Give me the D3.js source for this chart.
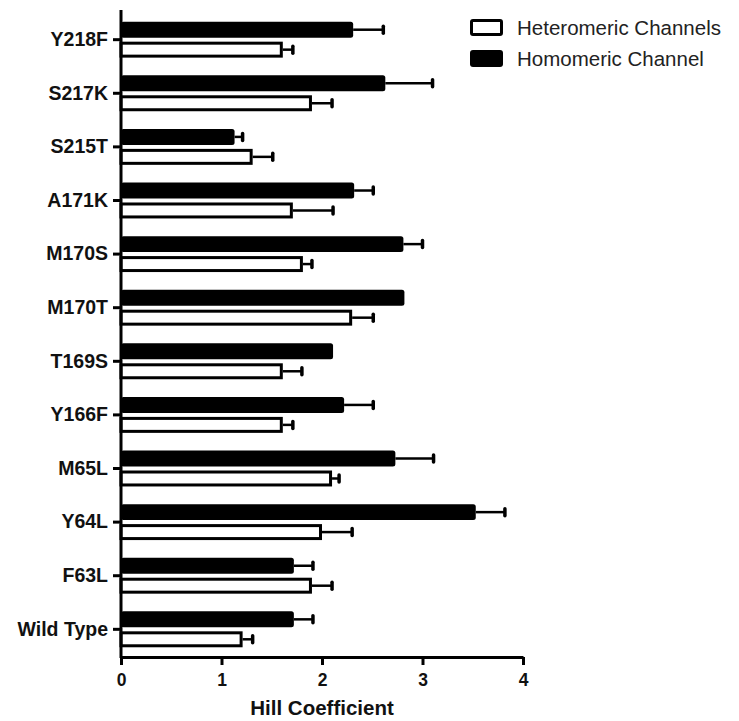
<!DOCTYPE html>
<html lang="en">
  <head>
    <meta charset="UTF-8" />
    <title>Hill Coefficient</title>
    <script src="https://d3js.org/d3.v7.min.js"></script>
    <style>
      body {
        margin: 0;
        background: #fff;
      }
      * {
        font-family: "Liberation Sans", Arial, sans-serif;
      }
      .axis path,
      .axis line {
        stroke: #000;
        stroke-width: 3;
      }
      .axis text {
        fill: #111;
        font-weight: bold;
      }
      .legend text {
        fill: #222;
        font-size: 20.5px;
      }
    </style>
  </head>
  <body>
    <script>
      const categories = ["Y218F", "S217K", "S215T", "A171K", "M170S", "M170T",
        "T169S", "Y166F", "M65L", "Y64L", "F63L", "Wild Type"];
      const seriesNames = ["Homomeric Channel", "Heteromeric Channels"];
      const homoValues = [2.31, 2.63, 1.13, 2.32, 2.81, 2.82, 2.11, 2.22, 2.73, 3.53, 1.72, 1.72];
      const homoErrors = [0.30, 0.47, 0.08, 0.19, 0.19, 0, 0, 0.29, 0.38, 0.29, 0.19, 0.19];
      const heteroValues = [1.61, 1.90, 1.31, 1.71, 1.81, 2.30, 1.61, 1.61, 2.10, 2.00, 1.90, 1.21];
      const heteroErrors = [0.10, 0.20, 0.20, 0.40, 0.09, 0.21, 0.19, 0.10, 0.07, 0.30, 0.20, 0.10];
      const xTicks = [0, 1, 2, 3, 4];

      const rows = categories.map((c, i) => ({
        name: c,
        bars: [
          { key: seriesNames[0], value: homoValues[i], err: homoErrors[i] },
          { key: seriesNames[1], value: heteroValues[i], err: heteroErrors[i] },
        ],
      }));

      const width = 739, height = 721;
      const svg = d3.select("body").append("svg")
        .attr("width", width).attr("height", height);

      const x = d3.scaleLinear().domain([0, 4]).range([121, 523]);
      const y = d3.scaleBand().domain(categories).range([11, 658])
        .paddingInner(0.33).paddingOuter(0.2);
      const yInner = d3.scaleBand().domain(seriesNames)
        .range([0, y.bandwidth()]).paddingInner(0.2);

      const groups = svg.selectAll("g.row").data(rows).enter()
        .append("g").attr("class", "row")
        .attr("transform", (d) => `translate(0, ${y(d.name)})`);

      groups.each(function (d) {
        const g = d3.select(this);
        d.bars.forEach(function (b) {
          const isHomo = b.key === seriesNames[0];
          const by = yInner(b.key);
          const bh = yInner.bandwidth();
          const cy = by + bh / 2;
          // error bar (right side only)
          if (b.err > 0) {
            g.append("line")
              .attr("x1", x(b.value)).attr("x2", x(b.value + b.err))
              .attr("y1", cy).attr("y2", cy)
              .attr("stroke", "#000").attr("stroke-width", 2.5);
            g.append("line")
              .attr("x1", x(b.value + b.err)).attr("x2", x(b.value + b.err))
              .attr("y1", cy - 3.5).attr("y2", cy + 3.5)
              .attr("stroke", "#000").attr("stroke-width", 3.5)
              .attr("stroke-linecap", "round");
          }
          if (isHomo) {
            g.append("rect")
              .attr("x", x(0)).attr("y", by)
              .attr("width", x(b.value) - x(0)).attr("height", bh)
              .attr("rx", 2.5).attr("fill", "#000");
          } else {
            g.append("rect")
              .attr("x", x(0)).attr("y", by + 1.5)
              .attr("width", x(b.value) - x(0) - 1.5).attr("height", bh - 3)
              .attr("fill", "#fff").attr("stroke", "#000").attr("stroke-width", 3);
          }
        });
      });

      // axes
      svg.append("g").attr("class", "axis")
        .attr("transform", "translate(0, 657)")
        .call(d3.axisBottom(x).tickValues(xTicks).tickFormat(d3.format("d"))
          .tickSize(8).tickSizeOuter(0).tickPadding(9))
        .call((g) => g.selectAll("text").style("font-size", "17.5px"));

      svg.append("g").attr("class", "axis")
        .attr("transform", "translate(121, 0)")
        .call(d3.axisLeft(y).tickSize(8).tickSizeOuter(0).tickPadding(5))
        .call((g) => g.select(".domain").attr("d", "M0,10V658"))
        .call((g) => g.selectAll("text").style("font-size", "19.5px"));

      svg.append("text")
        .attr("x", x(2)).attr("y", 715)
        .attr("text-anchor", "middle")
        .style("font-size", "20.5px").style("font-weight", "bold")
        .style("fill", "#111")
        .text("Hill Coefficient");

      // legend
      const legend = svg.append("g").attr("class", "legend")
        .attr("transform", "translate(470, 19)");
      const legendItems = [seriesNames[1], seriesNames[0]];
      legendItems.forEach(function (name, i) {
        const isHomo = name === seriesNames[0];
        legend.append("rect")
          .attr("x", isHomo ? 0 : 1.5).attr("y", i * 31 + (isHomo ? 0 : 1.5))
          .attr("width", isHomo ? 33 : 30).attr("height", isHomo ? 17 : 14)
          .attr("rx", isHomo ? 3 : 1.5)
          .attr("fill", isHomo ? "#000" : "#fff")
          .attr("stroke", "#000").attr("stroke-width", isHomo ? 0 : 3);
        legend.append("text")
          .attr("x", 47).attr("y", i * 31 + 16)
          .text(name);
      });
    </script>
  </body>
</html>
